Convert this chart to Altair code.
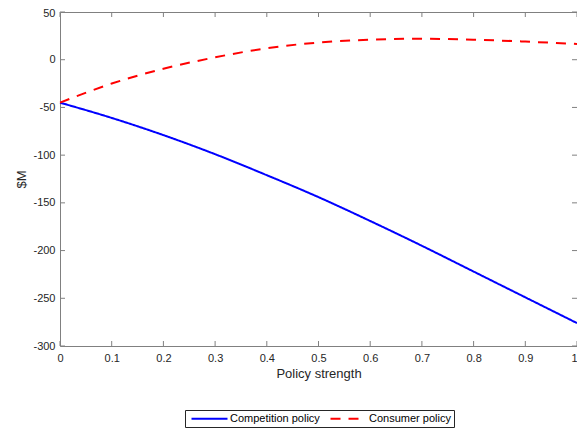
import altair as alt
import pandas as pd

# ---- data ----
x_vals = [0.0, 0.1, 0.2, 0.3, 0.4, 0.5, 0.6, 0.7, 0.8, 0.9, 1.0]
competition = [-45, -61, -79, -99, -121, -144, -169, -195, -222, -249, -276]
consumer = [-45, -25, -9.5, 2.5, 12, 18, 21, 22, 21, 19, 16.5]
series_names = ["Competition policy", "Consumer policy"]
series_colors = ["#0000FF", "#FF0000"]
series_dashes = [[1, 0], [10, 8]]
x_ticks = [0.0, 0.1, 0.2, 0.3, 0.4, 0.5, 0.6, 0.7, 0.8, 0.9, 1.0]
y_ticks = [-300, -250, -200, -150, -100, -50, 0, 50]

W, H = 517, 334
FONT = "Liberation Sans"
AXIS_COLOR = "#808080"
TEXT_COLOR = "#262626"

df = pd.DataFrame({
    "x": x_vals + x_vals,
    "y": competition + consumer,
    "series": [series_names[0]] * len(x_vals) + [series_names[1]] * len(x_vals),
})
xt = pd.DataFrame({"x": x_ticks})
yt = pd.DataFrame({"y": y_ticks})

xscale = alt.Scale(domain=[0, 1], nice=False, zero=False)
yscale = alt.Scale(domain=[-300, 50], nice=False, zero=False)

leg = alt.Legend(
    title=None, orient="none", legendX=125, legendY=398, direction="horizontal",
    strokeColor="#262626", fillColor="white", padding=3,
    symbolType="M-0.5,0H8.5", symbolSize=64, symbolStrokeWidth=2,
    labelFontSize=11, labelFont=FONT, labelColor="#000000",
    columnPadding=6, labelOffset=31,
)

lines = alt.Chart(df).mark_line(strokeWidth=2, interpolate="monotone").encode(
    x=alt.X("x:Q", scale=xscale, title="Policy strength",
            axis=alt.Axis(values=x_ticks, format="~g",
                          labelAlign=alt.condition("datum.value >= 1", alt.value("right"), alt.value("center")))),
    y=alt.Y("y:Q", scale=yscale, title="$M",
            axis=alt.Axis(values=y_ticks, labelExpr="replace(datum.label, '\u2212', '-')",
                          labelOffset=alt.condition("datum.value >= 50", alt.value(1), alt.value(0)))),
    color=alt.Color("series:N", scale=alt.Scale(domain=series_names, range=series_colors), legend=leg),
    strokeDash=alt.StrokeDash("series:N", scale=alt.Scale(domain=series_names, range=series_dashes), legend=leg),
)

tick_bottom = alt.Chart(xt).mark_rule(color=AXIS_COLOR, strokeWidth=1).encode(
    x=alt.X("x:Q", scale=xscale), y=alt.value(H), y2=alt.value(H - 5))
tick_top = alt.Chart(xt).mark_rule(color=AXIS_COLOR, strokeWidth=1).encode(
    x=alt.X("x:Q", scale=xscale), y=alt.value(0), y2=alt.value(5))
tick_left = alt.Chart(yt).mark_rule(color=AXIS_COLOR, strokeWidth=1).encode(
    y=alt.Y("y:Q", scale=yscale), x=alt.value(0), x2=alt.value(5))
tick_right = alt.Chart(yt).mark_rule(color=AXIS_COLOR, strokeWidth=1).encode(
    y=alt.Y("y:Q", scale=yscale), x=alt.value(W), x2=alt.value(W - 5))

chart = alt.layer(tick_bottom, tick_top, tick_left, tick_right, lines).properties(
    width=W, height=H,
    autosize=alt.AutoSizeParams(type="none"),
    padding={"left": 52, "top": 4, "right": 0, "bottom": 83},
).configure_view(
    stroke=AXIS_COLOR, strokeWidth=1
).configure_axis(
    domain=False, ticks=False, grid=False,
    labelFont=FONT, labelFontSize=11, labelColor=TEXT_COLOR,
    titleFont=FONT, titleFontSize=13, titleColor=TEXT_COLOR, titleFontWeight="normal",
).configure_axisX(
    labelPadding=6, titlePadding=4,
).configure_axisY(
    labelPadding=5, titlePadding=4,
)

chart.save("out.html", embed_options={"renderer": "svg", "actions": False})
